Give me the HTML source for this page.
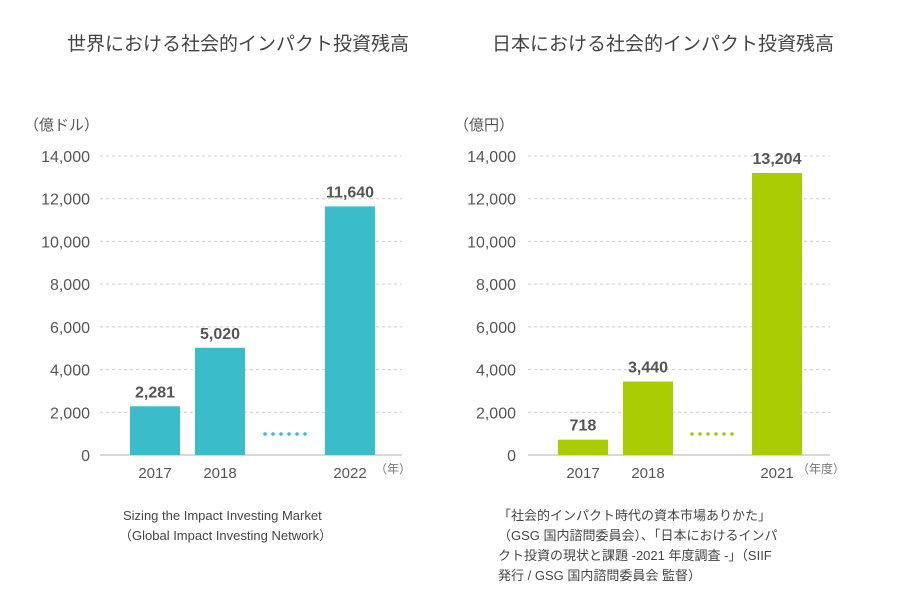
<!DOCTYPE html>
<html><head><meta charset="utf-8"><style>
body{margin:0;background:#fff;}
svg{display:block;font-family:"Liberation Sans","Noto Sans CJK JP",sans-serif;}
</style></head><body>
<svg id="c" width="900" height="610">
<text x="238" y="50" font-size="19" fill="#444" text-anchor="middle">世界における社会的インパクト投資残高</text>
<text x="663" y="50" font-size="19" fill="#444" text-anchor="middle">日本における社会的インパクト投資残高</text>
<text x="24" y="130" font-size="15" fill="#555">（億ドル）</text>
<text x="454" y="130" font-size="15" fill="#555">（億円）</text>
<text x="375" y="473" font-size="12" fill="#777">（年）</text>
<text x="123" y="520" font-size="13" fill="#444">Sizing the Impact Investing Market</text>
<text x="119" y="540" font-size="13" fill="#444">（Global Impact Investing Network）</text>
<g font-size="13" fill="#444">
<text x="498" y="520">「社会的インパクト時代の資本市場ありかた」</text>
<text x="498" y="540">（GSG 国内諮問委員会）、「日本におけるインパ</text>
<text x="498" y="560">クト投資の現状と課題 -2021 年度調査 -」（SIIF</text>
<text x="498" y="580">発行 / GSG 国内諮問委員会 監督）</text>
</g>
</svg>
<script>
const ticks=[0,2000,4000,6000,8000,10000,12000,14000];
const tickLabels=["0","2,000","4,000","6,000","8,000","10,000","12,000","14,000"];
const leftCats=["2017","2018","2022"];
const leftVals=[2281,5020,11640];
const leftLabels=["2,281","5,020","11,640"];
const rightCats=["2017","2018","2021"];
const rightVals=[718,3440,13204];
const rightLabels=["718","3,440","13,204"];
const NS="http://www.w3.org/2000/svg";
const svg=document.getElementById('c');
function mk(t,a,txt){const e=document.createElementNS(NS,t);for(const k in a)e.setAttribute(k,a[k]);if(txt!=null)e.textContent=txt;svg.appendChild(e);return e;}
function y(v){return 455-v/14000*299;}
function chart(prefix,gx0,gx1,labelX,barXs,cats,vals,labels,color,dotX){
  ticks.forEach((t,i)=>{
    const l=mk('line',{x1:gx0,x2:gx1,y1:y(t),y2:y(t),stroke:'#ccc','stroke-width':t===0?1.5:1,'stroke-dasharray':t===0?'':'3,3'});
    
    
    const tx=mk('text',{x:labelX,y:y(t)+6,'font-size':16,fill:'#555','text-anchor':'end'},tickLabels[i]);
    
    
  });
  vals.forEach((v,i)=>{
    const r=mk('rect',{x:barXs[i],y:y(v),width:50,height:455-y(v),fill:color});
    
    
    const vl=mk('text',{x:barXs[i]+25,y:y(v)-9,'font-size':16,'font-weight':'bold',fill:'#555','text-anchor':'middle'},labels[i]);
    
    
    const cl=mk('text',{x:barXs[i]+25,y:478,'font-size':15,fill:'#555','text-anchor':'middle'},cats[i]);
    
    
  });
  for(let k=0;k<6;k++){
    const d=mk('circle',{cx:dotX+k*8,cy:434,r:1.8,fill:color});
    
    
  }
}
chart('left',100,402,90,[130,195,325],leftCats,leftVals,leftLabels,'#3bbccb',265);
chart('right',528,830,516,[558,623,752],rightCats,rightVals,rightLabels,'#aacc03',692);
const u=mk('text',{x:797,y:473,'font-size':12,fill:'#777'},'（年度）');


</script>
</body></html>
